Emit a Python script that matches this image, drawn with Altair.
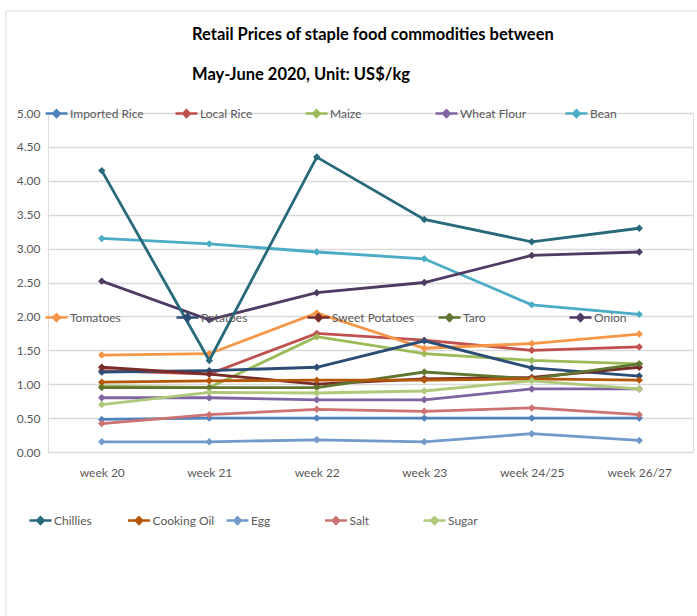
import altair as alt
import pandas as pd

weeks = ["week 20", "week 21", "week 22", "week 23", "week 24/25", "week 26/27"]

# Prices in US$/kg
imported_rice = [0.48, 0.50, 0.50, 0.50, 0.50, 0.50]
local_rice = [1.20, 1.15, 1.75, 1.65, 1.50, 1.55]
maize = [0.97, 0.95, 1.70, 1.45, 1.35, 1.30]
wheat_flour = [0.80, 0.80, 0.77, 0.77, 0.93, 0.93]
bean = [3.15, 3.07, 2.95, 2.85, 2.17, 2.03]
tomatoes = [1.43, 1.45, 2.05, 1.53, 1.60, 1.74]
potatoes = [1.18, 1.20, 1.25, 1.64, 1.24, 1.12]
sweet_potatoes = [1.25, 1.15, 1.00, 1.08, 1.10, 1.25]
taro = [0.95, 0.95, 0.95, 1.18, 1.08, 1.30]
onion = [2.52, 1.95, 2.35, 2.50, 2.90, 2.95]
chillies = [4.15, 1.35, 4.35, 3.43, 3.10, 3.30]
cooking_oil = [1.03, 1.05, 1.06, 1.06, 1.08, 1.06]
egg = [0.15, 0.15, 0.18, 0.15, 0.27, 0.17]
salt = [0.42, 0.55, 0.63, 0.60, 0.65, 0.55]
sugar = [0.70, 0.88, 0.87, 0.90, 1.05, 0.93]

group1 = ["Imported Rice", "Local Rice", "Maize", "Wheat Flour", "Bean"]
group2 = ["Tomatoes", "Potatoes", "Sweet Potatoes", "Taro", "Onion"]
group3 = ["Chillies", "Cooking Oil", "Egg", "Salt", "Sugar"]
values1 = [imported_rice, local_rice, maize, wheat_flour, bean]
values2 = [tomatoes, potatoes, sweet_potatoes, taro, onion]
values3 = [chillies, cooking_oil, egg, salt, sugar]
colors1 = ["#4F81BD", "#C0504D", "#9BBB59", "#8064A2", "#4BACC6"]
colors2 = ["#F79646", "#2C4D75", "#772C2A", "#5F7530", "#4D3B62"]
colors3 = ["#276A7C", "#B65708", "#729ACA", "#CD7371", "#AFC97A"]

FONT = "Lato"
GRAY = "#595959"
SYMBOL = ("M-1,0L1,0M0,-0.3L0.3,0L0,0.3L-0.3,0Z"
          "M0,-0.15L0.15,0L0,0.15L-0.15,0Z")


def frame_for(names, vals):
    rows = []
    for n, v in zip(names, vals):
        for w, p in zip(weeks, v):
            rows.append({"week": w, "price": p, "series": n})
    return pd.DataFrame(rows)


x_enc = alt.X(
    "week:N", sort=weeks, scale=alt.Scale(padding=0.5),
    axis=alt.Axis(title=None, labelAngle=0, domain=False, ticks=False, grid=False,
                  labelPadding=15, labelFont=FONT, labelFontSize=12,
                  labelColor=GRAY))
y_enc = alt.Y(
    "price:Q", scale=alt.Scale(domain=[0, 5], nice=False),
    axis=alt.Axis(title=None, values=[0, 0.5, 1, 1.5, 2, 2.5, 3, 3.5, 4, 4.5, 5],
                  format=".2f", domain=False, ticks=False, labelPadding=8,
                  labelFont=FONT, labelFontSize=12, labelColor=GRAY,
                  gridColor="#d9d9d9", gridWidth=1.5))


def group_layer(names, vals, colors, lx, ly, colpad):
    df = frame_for(names, vals)
    legend = alt.Legend(
        orient="none", legendX=lx, legendY=ly, direction="horizontal",
        columns=5, gridAlign="all", columnPadding=colpad, padding=0,
        symbolType=SYMBOL, symbolSize=484, symbolStrokeWidth=2.5,
        labelFont=FONT, labelFontSize=12, labelColor=GRAY, labelOffset=1)
    lines = alt.Chart(df).mark_line(strokeWidth=2.8).encode(
        x=x_enc, y=y_enc,
        color=alt.Color("series:N", title=None,
                        scale=alt.Scale(domain=names, range=colors),
                        legend=legend))
    points = alt.Chart(df).mark_point(shape="diamond", filled=True, size=55,
                                      opacity=1).encode(
        x=x_enc, y=y_enc,
        color=alt.Color("series:N", scale=alt.Scale(domain=names, range=colors),
                        legend=None))
    return alt.layer(lines, points)


one = pd.DataFrame({"k": [0]})
border_top = alt.Chart(one).mark_rule(color="#d9d9d9", strokeWidth=1).encode(
    x=alt.value(-42), x2=alt.value(649), y=alt.value(-102))
border_left = alt.Chart(one).mark_rule(color="#d9d9d9", strokeWidth=1).encode(
    x=alt.value(-42), y=alt.value(-102), y2=alt.value(520))

chart = alt.layer(
    border_top, border_left,
    group_layer(group1, values1, colors1, -4, -12, 26),
    group_layer(group2, values2, colors2, -4, 192, 18),
    group_layer(group3, values3, colors3, -20, 395, 6.5),
).resolve_scale(color="independent").properties(
    width=645, height=339,
    autosize=alt.AutoSizeParams(type="none"),
    padding={"left": 48, "top": 113, "right": 4, "bottom": 164},
    title=alt.TitleParams(
        text=["Retail Prices of staple food commodities between",
              "May-June 2020, Unit: US$/kg"],
        anchor="start", frame="group", dx=144, offset=-73,
        font=FONT, fontSize=16.5, fontWeight="bold", color="#000000",
        lineHeight=40),
).configure_view(strokeWidth=0).configure(background="white")

chart.save("out.html", embed_options={"renderer": "svg", "actions": False})
